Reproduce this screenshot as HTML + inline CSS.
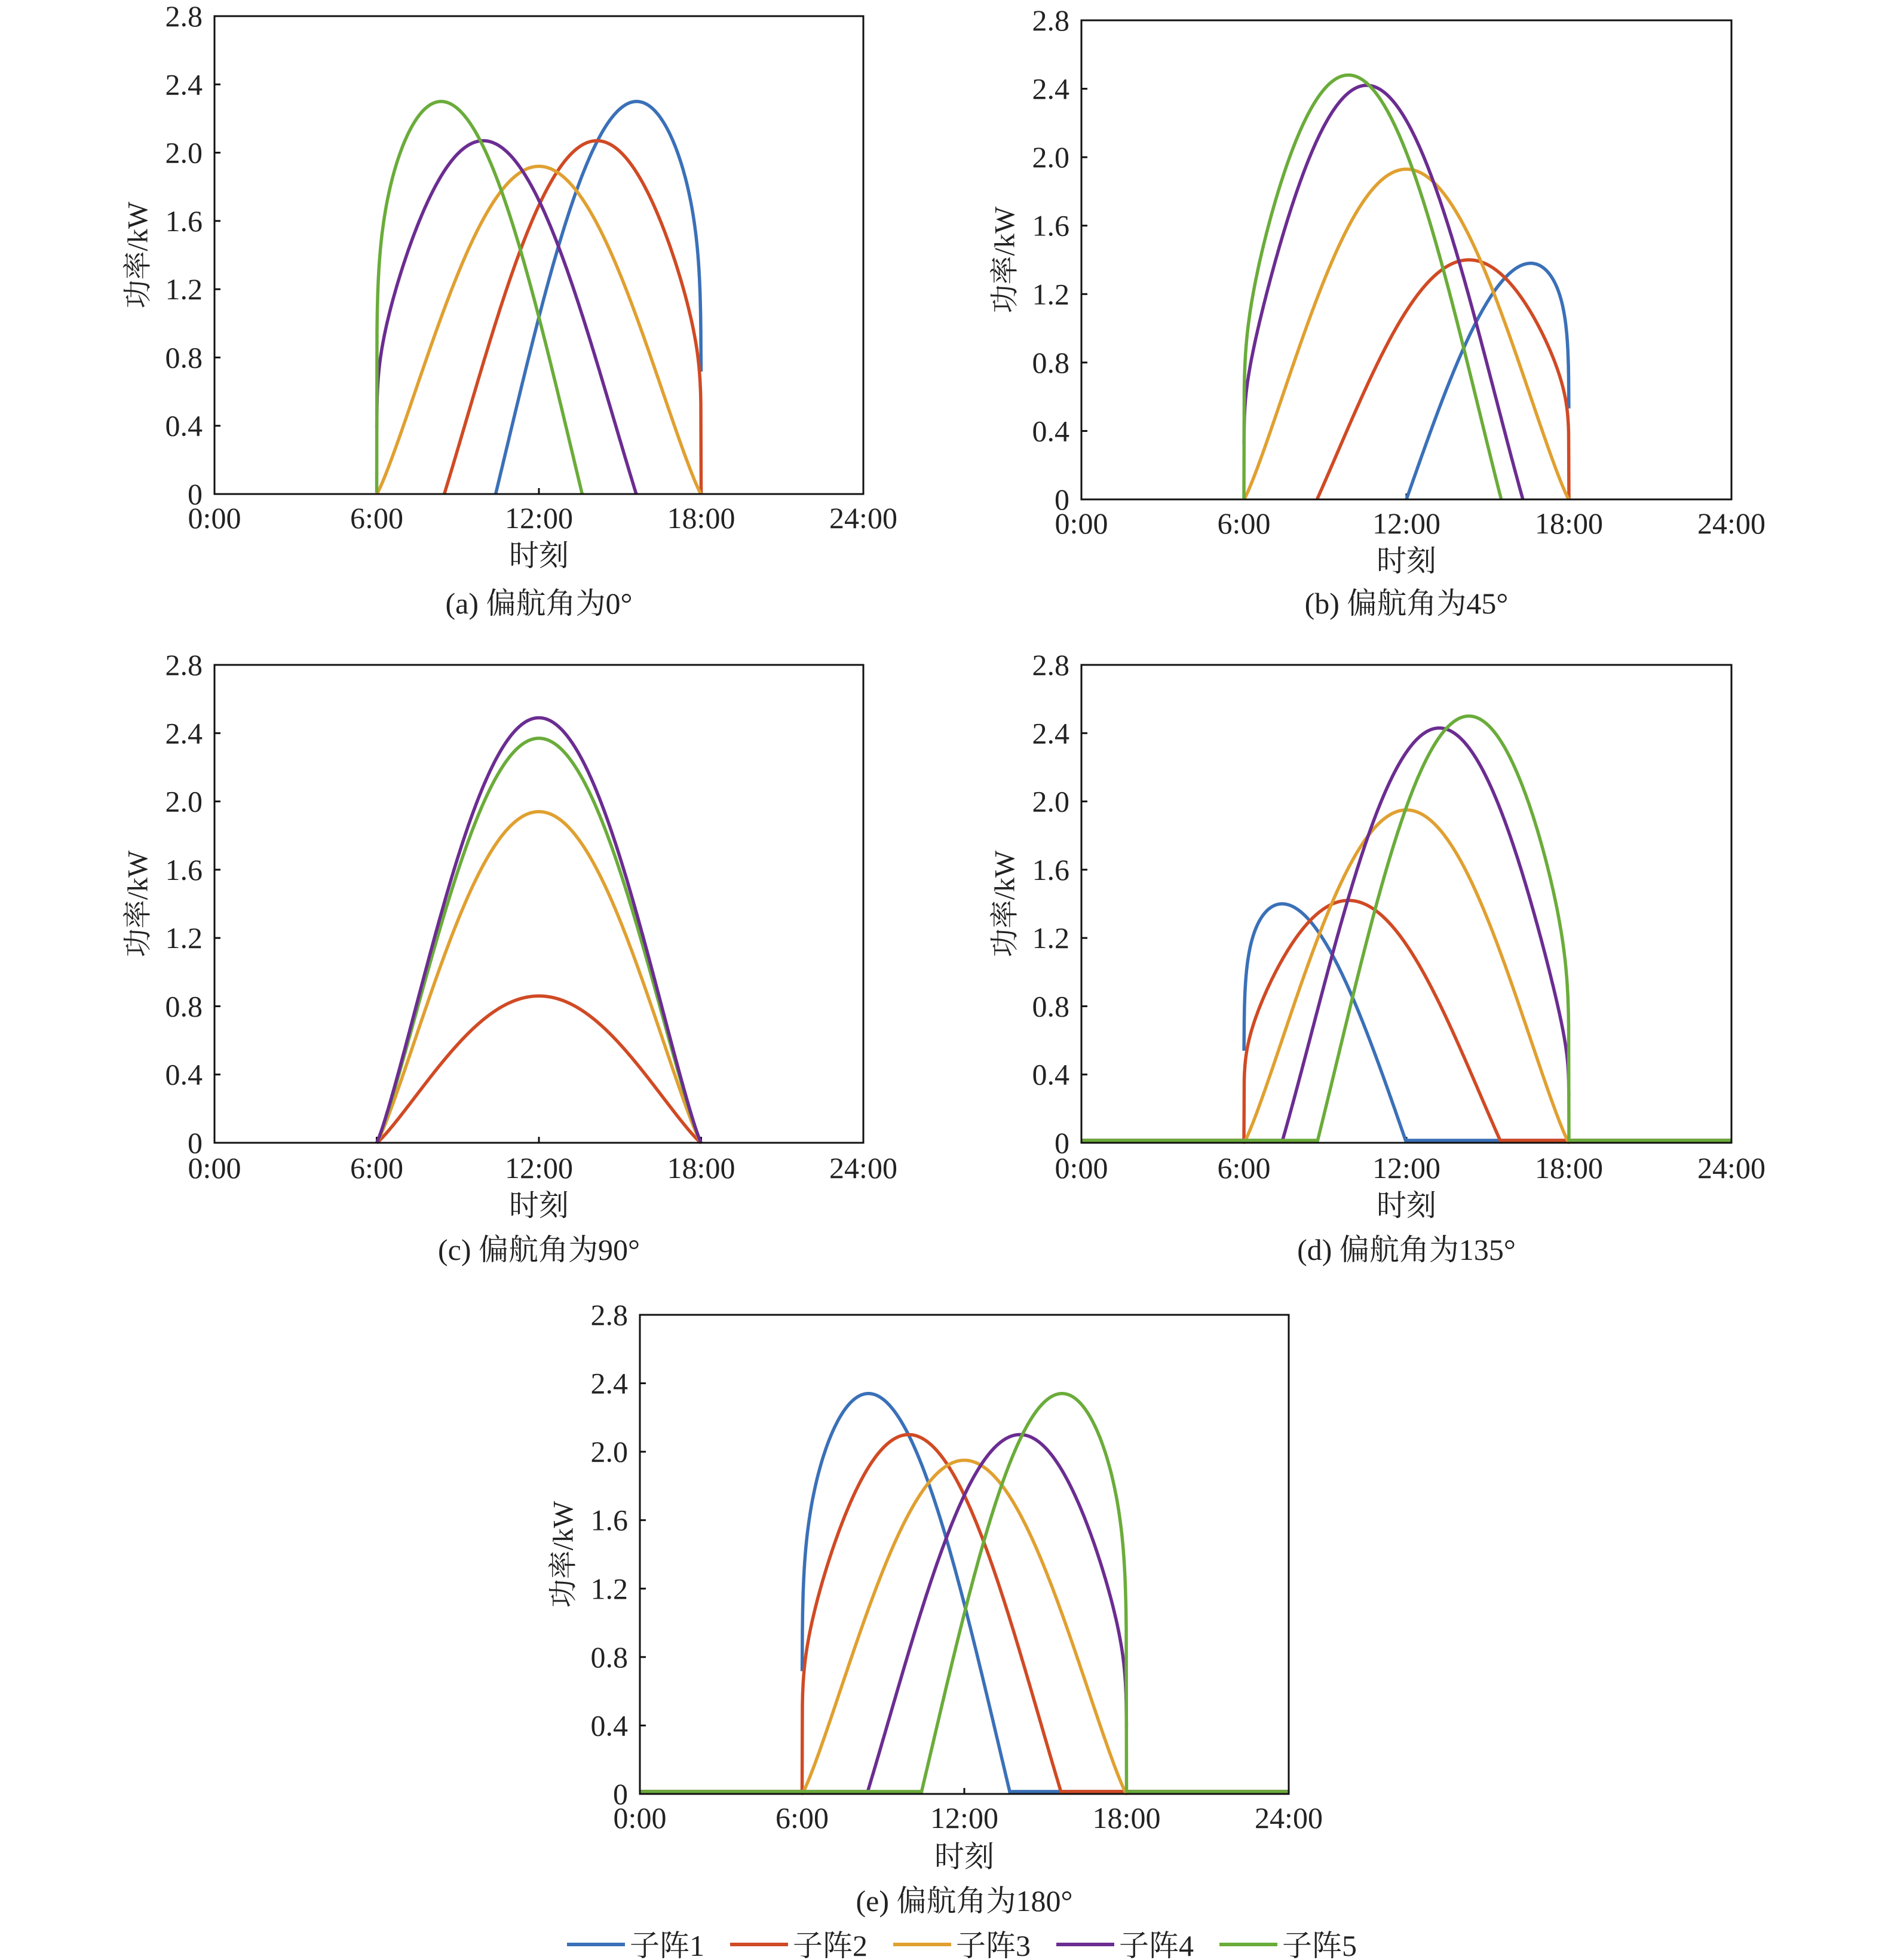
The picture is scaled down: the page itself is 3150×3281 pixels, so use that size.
<!DOCTYPE html>
<html><head><meta charset="utf-8">
<style>
html,body{margin:0;padding:0;background:#fff;}
svg{display:block;}
text{font-family:"Liberation Serif","Noto Serif CJK SC",serif;fill:#222;}
</style></head>
<body>
<svg id="s" width="3150" height="3281" viewBox="0 0 3150 3281" xmlns="http://www.w3.org/2000/svg"></svg>
<script>
const S=document.getElementById('s');
const C={b:'#3a70b8',r:'#d04a24',y:'#e0a030',p:'#6b2d91',g:'#6aac3a'};
let out='';
const K=0.15;
function raw(t,phi){const w=(t-12)*Math.PI/12;const c=Math.cos(w);if(c<=0)return 0;const v=Math.cos(w-phi*Math.PI/180);if(v<=0)return 0;return v*Math.pow(c,K);}
function panel(o){
 const L=o.L,T=o.T,R=o.R,B=o.B,W=R-L,H=B-T;
 const X=t=>L+t/24*W, Y=p=>B-p/2.8*H;
 for(let i=1;i<7;i++){const y=Y(i*0.4);out+=`<line x1="${L}" y1="${y}" x2="${L+10}" y2="${y}" stroke="#111" stroke-width="3"/>`;}
 for(let i=1;i<4;i++){const x=X(i*6);out+=`<line x1="${x}" y1="${B}" x2="${x}" y2="${B-10}" stroke="#111" stroke-width="3"/>`;}
 o.c.forEach(cv=>{
  const [col,phi,pk,cut]=cv;
  let m=0;for(let t=6;t<=18;t+=0.005){m=Math.max(m,raw(t,phi));}
  const s=m>0?pk/m:0;
  if(o.flat){
    out+=`<line x1="${X(0)}" y1="${B-4}" x2="${X(6)}" y2="${B-4}" stroke="${C[col]}" stroke-width="5.5"/>`;
    out+=`<line x1="${X(18)}" y1="${B-4}" x2="${X(24)}" y2="${B-4}" stroke="${C[col]}" stroke-width="5.5"/>`;
  }
  let ts=[];
  if(cut)ts.push(6.0015);
  for(let t=6;t<=18.0001;t+=0.01){const tt=Math.min(t,18);if(cut&&(tt<6.0015||tt>17.9985))continue;ts.push(tt);}
  if(cut)ts.push(17.9985);
  let P=ts.map(t=>raw(t,phi)*s);
  let pts=[];
  ts.forEach((t,i)=>{
   const p=P[i];
   if(!o.flat && p<=1e-6){
     const a=i>0?P[i-1]:0, b=i<P.length-1?P[i+1]:0;
     if(a<=1e-6&&b<=1e-6)return;
   }
   let y=Y(p); if(p<=1e-6 && o.flat) y=B-4;
   pts.push(X(t).toFixed(1)+','+y.toFixed(1));
  });
  out+=`<polyline points="${pts.join(' ')}" fill="none" stroke="${C[col]}" stroke-width="5.5" stroke-linejoin="round"/>`;
 });
 out+=`<rect x="${L}" y="${T}" width="${W}" height="${H}" fill="none" stroke="#111" stroke-width="3"/>`;
 ['0','0.4','0.8','1.2','1.6','2.0','2.4','2.8'].forEach((s,i)=>{out+=`<text x="${L-20}" y="${Y(i*0.4)}" font-size="50" text-anchor="end" dominant-baseline="central">${s}</text>`;});
 ['0:00','6:00','12:00','18:00','24:00'].forEach((s,i)=>{out+=`<text x="${X(i*6)}" y="${o.tk}" font-size="50" text-anchor="middle" dominant-baseline="central">${s}</text>`;});
 out+=`<text x="${L+W/2}" y="${o.xl}" font-size="50" text-anchor="middle" dominant-baseline="central">时刻</text>`;
 out+=`<text x="${L+W/2}" y="${o.cap}" font-size="50" text-anchor="middle" dominant-baseline="central">${o.title}</text>`;
 out+=`<text transform="translate(${L-128},${T+H/2}) rotate(-90)" font-size="48" text-anchor="middle" dominant-baseline="central">功率/kW</text>`;
}
panel({L:359,T:27,R:1445,B:827,tk:867,xl:930,cap:1010,title:'(a) 偏航角为0°',
 c:[['b',66,2.3,1],['r',37.5,2.07,0],['y',0,1.92,0],['p',-36,2.07,1],['g',-66,2.3,0]]});
panel({L:1810,T:34,R:2898,B:836,tk:876,xl:939,cap:1010,title:'(b) 偏航角为45°',
 c:[['b',90,1.38,1],['r',40.5,1.4,0],['y',0,1.93,0],['p',-25.5,2.42,1],['g',-37.5,2.48,0]]});
panel({L:359,T:1113,R:1445,B:1913,tk:1955,xl:2018,cap:2092,title:'(c) 偏航角为90°',
 c:[['r',0,0.86,0],['y',0,1.94,0],['g',0,2.37,0],['p',0,2.49,0]]});
panel({L:1810,T:1113,R:2898,B:1913,tk:1955,xl:2018,cap:2092,title:'(d) 偏航角为135°',flat:1,
 c:[['b',-90,1.4,1],['r',-37.5,1.42,0],['y',0,1.95,0],['p',21,2.43,1],['g',40.5,2.5,0]]});
panel({L:1071,T:2201,R:2157,B:3003,tk:3043,xl:3108,cap:3182,title:'(e) 偏航角为180°',flat:1,
 c:[['b',-64.5,2.34,1],['r',-36,2.1,0],['y',0,1.95,0],['p',36,2.1,1],['g',66,2.34,0]]});
[['b',949,'子阵1'],['r',1222,'子阵2'],['y',1495,'子阵3'],['p',1768,'子阵4'],['g',2041,'子阵5']].forEach(l=>{
 out+=`<line x1="${l[1]}" y1="3255" x2="${l[1]+97}" y2="3255" stroke="${C[l[0]]}" stroke-width="6"/>`;
 out+=`<text x="${l[1]+105}" y="3257" font-size="50" dominant-baseline="central">${l[2]}</text>`;
});
S.innerHTML=out;
</script>
</body></html>
